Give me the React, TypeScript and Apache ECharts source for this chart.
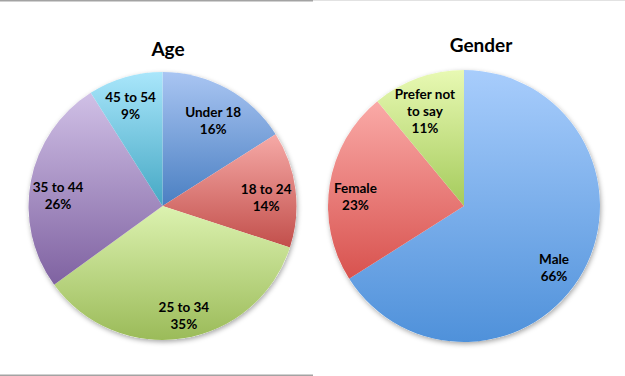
import React, { useEffect, useRef } from "react";
import * as echarts from "echarts";

// ---- data ----
const ageCategories = ["Under 18", "18 to 24", "25 to 34", "35 to 44", "45 to 54"];
const ageValues = [16, 14, 35, 26, 9];
const genderCategories = ["Male", "Female", "Prefer not to say"];
const genderValues = [66, 23, 11];
const genderLabelText = ["Male", "Female", "Prefer not\nto say"];

// ---- styles ----
const ageGradients: [string, string][] = [
  ["#a9c5f2", "#4a7fc2"],
  ["#f6aaa7", "#c24f4b"],
  ["#dcf2b0", "#9bbb59"],
  ["#d0c0e6", "#7f62a1"],
  ["#a9e6fb", "#45a8c4"],
];
const genderGradients: [string, string][] = [
  ["#a8cdfc", "#4f91da"],
  ["#faaaa7", "#d8524e"],
  ["#e8f9b3", "#a5cb5c"],
];
// label distance from centre (px) and small angular nudge (deg, clockwise)
const ageLabelDist = [96, 101, 109, 102, 102];
const ageLabelNudge = [2, 2.5, -2, -5, -1.5];
const genderLabelDist = [106, 106, 100];
const genderLabelNudge = [5.5, -4, -2.5];

const FONT = "Lato, 'Open Sans', sans-serif";

function grad(c: [string, string]) {
  return new echarts.graphic.LinearGradient(0, 0, 0, 1, [
    { offset: 0, color: c[0] },
    { offset: 1, color: c[1] },
  ]);
}

function buildPie(
  center: [number, number],
  R: number,
  cats: string[],
  vals: number[],
  grads: [string, string][],
  labelText: string[],
  dists: number[],
  nudges: number[]
) {
  const out: any[] = [];
  out.push({
    type: "pie",
    center,
    radius: R,
    silent: true,
    z: 1,
    label: { show: false },
    labelLine: { show: false },
    itemStyle: {
      color: "#ffffff",
      shadowBlur: 5,
      shadowColor: "rgba(0,0,0,0.35)",
      shadowOffsetY: 2,
      shadowOffsetX: 1,
    },
    data: [{ value: 1, name: "bg" }],
  });
  out.push({
    type: "pie",
    center,
    radius: R,
    startAngle: 90,
    clockwise: true,
    silent: true,
    z: 2,
    label: { show: false },
    labelLine: { show: false },
    itemStyle: { borderWidth: 0 },
    data: cats.map((c, i) => ({
      name: c,
      value: vals[i],
      itemStyle: { color: grad(grads[i]) },
    })),
  });
  cats.forEach((_, k) => {
    const d = dists[k];
    out.push({
      type: "pie",
      center,
      radius: [2 * d - R, R],
      startAngle: 90 - nudges[k],
      clockwise: true,
      silent: true,
      z: 3,
      avoidLabelOverlap: false,
      labelLine: { show: false },
      itemStyle: { color: "transparent", borderWidth: 0 },
      label: { show: false },
      data: cats.map((c, i) => ({
        name: c,
        value: vals[i],
        label: {
          show: i === k,
          position: "inside",
          formatter: () => `${labelText[i]}\n${vals[i]}%`,
          color: "#000000",
          fontFamily: FONT,
          fontWeight: "bold",
          fontSize: 13.5,
          lineHeight: 17,
          align: "center",
        },
      })),
    });
  });
  return out;
}

export default function App() {
  const ref = useRef<HTMLDivElement>(null);
  useEffect(() => {
    document.body.style.margin = "0";
    if (!ref.current) return;
    const chart = echarts.init(ref.current, null, { renderer: "svg" });
    chart.setOption({
      animation: false,
      backgroundColor: "#ffffff",
      title: [
        {
          text: "Age",
          left: 163,
          top: 34,
          textAlign: "center",
          textStyle: { fontFamily: FONT, fontWeight: "bold", fontSize: 19, color: "#000" },
        },
        {
          text: "Gender",
          left: 476,
          top: 30,
          textAlign: "center",
          textStyle: { fontFamily: FONT, fontWeight: "bold", fontSize: 19, color: "#000" },
        },
      ],
      graphic: [
        { type: "line", silent: true, shape: { x1: 0, y1: 0.75, x2: 313, y2: 0.75 }, style: { stroke: "#a3a3a3", lineWidth: 1.5 } },
        { type: "line", silent: true, shape: { x1: 313, y1: 0.5, x2: 625, y2: 0.5 }, style: { stroke: "#e2e2e2", lineWidth: 1 } },
        { type: "line", silent: true, shape: { x1: 0, y1: 375.25, x2: 313, y2: 375.25 }, style: { stroke: "#a3a3a3", lineWidth: 1.5 } },
      ],
      series: [
        ...buildPie([162.5, 206], 134, ageCategories, ageValues, ageGradients, ageCategories, ageLabelDist, ageLabelNudge),
        ...buildPie([464, 206], 136, genderCategories, genderValues, genderGradients, genderLabelText, genderLabelDist, genderLabelNudge),
      ],
    });
    return () => chart.dispose();
  }, []);
  return <div ref={ref} style={{ width: 625, height: 376 }} />;
}
